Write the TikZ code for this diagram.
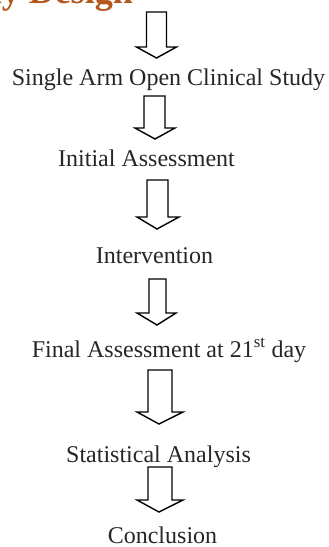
\documentclass[tikz,border=0pt]{standalone}
\usepackage{fontspec}
\setmainfont{Liberation Serif}
\definecolor{titlebrown}{HTML}{B5561C}
\definecolor{txtgray}{HTML}{262626}
\newcommand{\blkarrow}[8]{%
  % #1 shaft left, #2 shaft right, #3 top, #4 wing y, #5 wing left, #6 wing right, #7 tip x, #8 tip y
  \draw[blockarrow] (#1,#3) -- (#2,#3) -- (#2,#4) -- (#6,#4) -- (#7,#8) -- (#5,#4) -- (#1,#4) -- cycle;}
\begin{document}
\begin{tikzpicture}[x=1pt,y=-1pt,
  steptext/.style={inner sep=0pt,anchor=base,text=txtgray,font=\fontsize{24}{28}\selectfont},
  blockarrow/.style={draw=black,line width=1.4pt,line join=miter,fill=white}]
\useasboundingbox (0,0) rectangle (329,547);
\node[inner sep=0pt,anchor=base east,text=titlebrown,font=\fontsize{36}{42}\selectfont\bfseries] (title) at (133,3.5) {Study Design};
\node[steptext] (s1) at (168.5,85) {Single Arm Open Clinical Study};
\node[steptext] (s2) at (146.5,166) {Initial Assessment};
\node[steptext] (s3) at (154.5,263) {Intervention};
\node[steptext] (s4) at (169,357) {Final Assessment at 21\textsuperscript{st} day};
\node[steptext] (s5) at (158.5,462) {Statistical Analysis};
\node[steptext] (s6) at (162.5,543) {Conclusion};
\blkarrow{146.5}{166.5}{12}{47}{136.5}{176.5}{156.5}{58}
\blkarrow{144}{165}{96}{128}{135}{175}{155}{139}
\blkarrow{147}{168}{180}{217}{137}{179}{157}{229}
\blkarrow{149}{166}{279}{313}{137}{176}{157}{325}
\blkarrow{148}{172}{370}{412}{137}{183}{159}{424}
\blkarrow{148}{172}{467}{500}{137}{183}{159}{512}
\end{tikzpicture}
\end{document}
